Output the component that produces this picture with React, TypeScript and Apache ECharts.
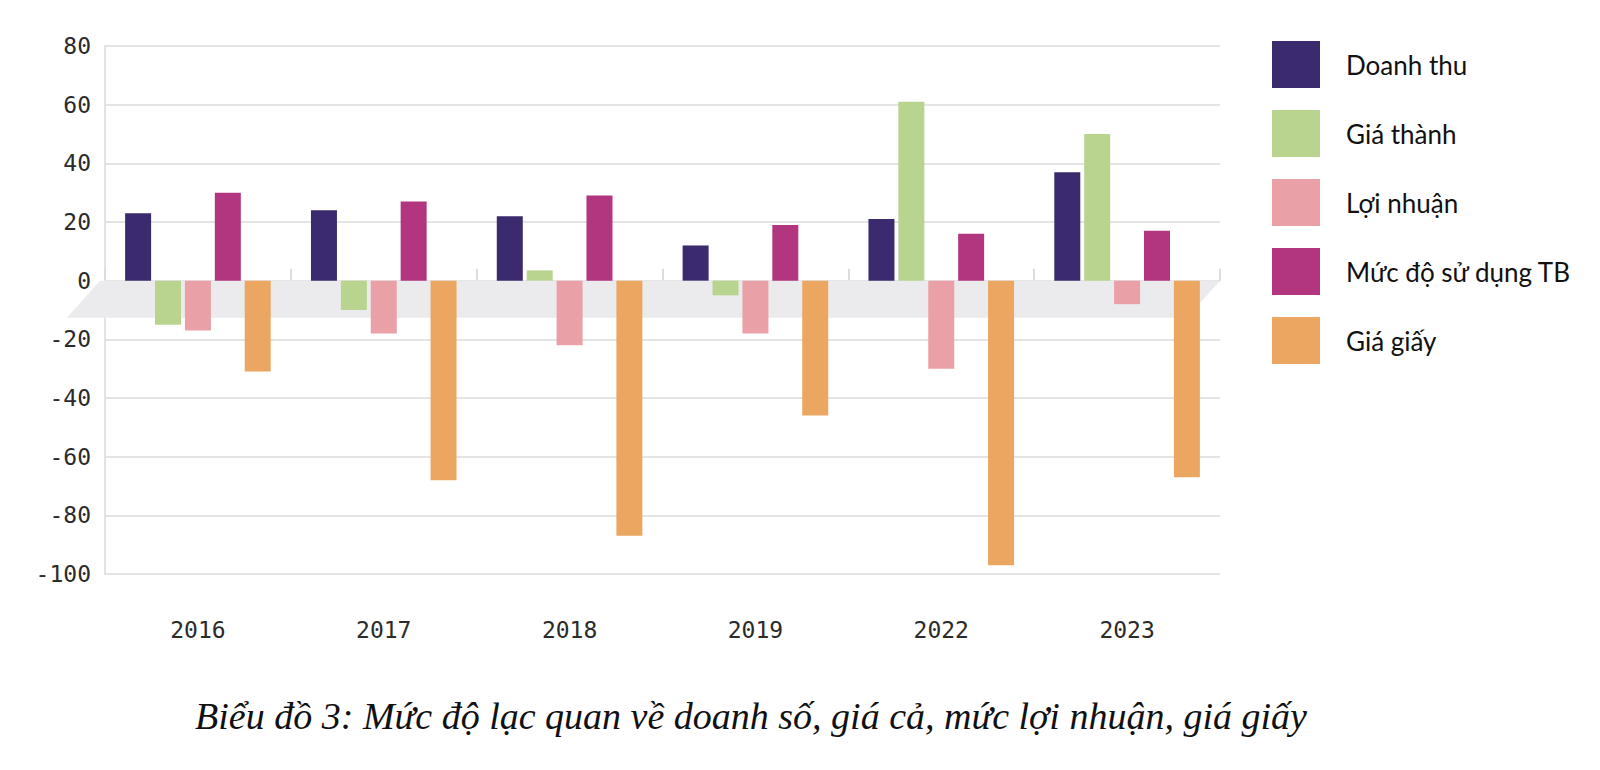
import * as React from "react";
import * as echarts from "echarts";

const years = ["2016", "2017", "2018", "2019", "2022", "2023"];
const doanhThu = [23, 24, 22, 12, 21, 37];
const giaThanh = [-15, -10, 3.5, -5, 61, 50];
const loiNhuan = [-17, -18, -22, -18, -30, -8];
const mucDoSuDung = [30, 27, 29, 19, 16, 17];
const giaGiay = [-31, -68, -87, -46, -97, -67];

const seriesNames = ["Doanh thu", "Giá thành", "Lợi nhuận", "Mức độ sử dụng TB", "Giá giấy"];
const seriesColors = ["#3c2a6e", "#b9d48f", "#e9a0a7", "#b2357f", "#eba762"];

const caption = "Biểu đồ 3: Mức độ lạc quan về doanh số, giá cả, mức lợi nhuận, giá giấy";

// layout
const GRID_LEFT = 105;
const GRID_RIGHT_X = 1220;
const GRID_TOP = 46;
const GRID_BOTTOM_Y = 574;
const W = 1600;
const H = 770;

export default function App() {
  const ref = React.useRef<HTMLDivElement | null>(null);

  React.useEffect(() => {
    document.body.style.margin = "0";
    if (!ref.current) return;
    const chart = echarts.init(ref.current, undefined, { renderer: "svg" });

    const values = [doanhThu, giaThanh, loiNhuan, mucDoSuDung, giaGiay];
    const mono = "'DejaVu Sans Mono', monospace";

    const captionText = {
      type: "text" as const,
      x: 751,
      y: 716,
      style: {
        text: caption,
        align: "center" as const,
        verticalAlign: "middle" as const,
        fontFamily: "'Liberation Serif', 'Times New Roman', serif",
        fontStyle: "italic" as const,
        fontSize: 38,
        fill: "#111111",
      },
    };

    const option: echarts.EChartsOption = {
      animation: false,
      backgroundColor: "#ffffff",
      grid: {
        left: GRID_LEFT,
        top: GRID_TOP,
        width: GRID_RIGHT_X - GRID_LEFT,
        height: GRID_BOTTOM_Y - GRID_TOP,
      },
      legend: {
        orient: "vertical",
        left: 1272,
        top: 41,
        padding: 0,
        itemWidth: 48,
        itemHeight: 47,
        itemGap: 22,
        icon: "rect",
        data: seriesNames,
        textStyle: {
          fontFamily: "Lato, 'Open Sans', sans-serif",
          fontSize: 26,
          color: "#111111",
          padding: [0, 0, 0, 21],
        },
      },
      xAxis: [
        {
          type: "category",
          data: years,
          position: "bottom",
          axisLine: { show: false, onZero: false },
          axisTick: { show: false },
          axisLabel: { margin: 44, fontFamily: mono, fontSize: 23, color: "#2b2b2b" },
          splitLine: { show: false },
        },
        {
          // ticks sitting on the zero line
          type: "category",
          data: years,
          position: "top",
          axisLine: { show: false, onZero: true },
          axisTick: { show: true, length: 12, lineStyle: { color: "#dddddd", width: 2 } },
          axisLabel: { show: false },
          splitLine: { show: false },
        },
      ],
      yAxis: {
        type: "value",
        min: -100,
        max: 80,
        interval: 20,
        axisLine: { show: true, lineStyle: { color: "#e2e2e2", width: 2 } },
        axisTick: { show: false },
        axisLabel: { margin: 14, fontFamily: mono, fontSize: 23, color: "#2b2b2b" },
        splitLine: { lineStyle: { color: "#e4e4e4", width: 2 } },
      },
      series: seriesNames.map((name, i) => ({
        name,
        type: "bar" as const,
        data: values[i],
        xAxisIndex: 0,
        barWidth: 26,
        barGap: "15%",
        itemStyle: { color: seriesColors[i] },
      })),
      graphic: [captionText],
    };
    chart.setOption(option);

    // grey floor band under the zero line
    const y0 = chart.convertToPixel({ yAxisIndex: 0 }, 0) as number;
    const y1 = chart.convertToPixel({ yAxisIndex: 0 }, -12.6) as number;
    const slant = 33;
    chart.setOption({
      graphic: [
        captionText,
        {
          type: "polygon",
          z: 1,
          shape: {
            points: [
              [GRID_LEFT - 5, y0],
              [GRID_RIGHT_X, y0],
              [GRID_RIGHT_X - slant, y1],
              [GRID_LEFT - 5 - slant, y1],
            ],
          },
          style: { fill: "#ebebed" },
        },
      ],
    });

    return () => chart.dispose();
  }, []);

  return <div ref={ref} style={{ width: W, height: H }} />;
}
